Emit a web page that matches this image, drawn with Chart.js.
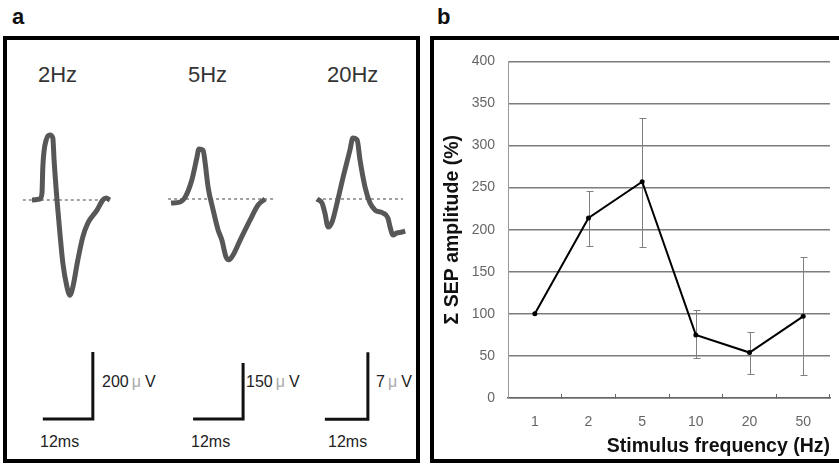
<html>
<head>
<title>SEP amplitude vs stimulus frequency</title>
<script src="https://cdn.jsdelivr.net/npm/chart.js@4.4.1/dist/chart.umd.min.js"></script>
<style>
  body { margin: 0; background: #fff; width: 839px; height: 464px; overflow: hidden; position: relative;
         font-family: "Liberation Sans", Arial, sans-serif; }
  .abs { position: absolute; }
  .box { position: absolute; border: 4px solid #000; box-sizing: border-box; }
  .panel { font-weight: bold; font-size: 22px; line-height: 22px; color: #111; }
  .hz { font-size: 22px; line-height: 22px; color: #333; }
  .ms { font-size: 16px; line-height: 16px; color: #222; }
  .uv { font-size: 16px; line-height: 16px; color: #222; white-space: nowrap; }
  .mu { color: #aaa; padding: 0 4px 0 3px; }
  canvas { position: absolute; }
</style>
</head>
<body>
<div class="panel abs" style="left:12px; top:6px;">a</div>
<div class="panel abs" style="left:437px; top:6px;">b</div>
<div class="box" style="left:3px; top:36px; width:417px; height:427px;"></div>
<div class="box" style="left:430px; top:36px; width:430px; height:427px;"></div>

<div id="labels"></div>
<canvas id="w0" width="120" height="325" style="left:15px; top:110px;"></canvas>
<canvas id="w1" width="125" height="325" style="left:160px; top:110px;"></canvas>
<canvas id="w2" width="110" height="325" style="left:305px; top:110px;"></canvas>
<canvas id="sep" width="405" height="419" style="left:434px; top:40px;"></canvas>

<script>
// ---- panel a: averaged SEP traces (time in ms, amplitude in uV) ----
var waveLabels = ['2Hz', '5Hz', '20Hz'];
var scaleBarMs = [12, 12, 12];
var scaleBarUv = [200, 150, 7];

var wave2Hz_t = [0, 1.9, 2.4, 2.6, 3.4, 4.3, 5.0, 5.3, 6.0, 6.7, 7.4, 8.4, 9.1, 9.8, 11.0, 12.2, 13.4, 15.6, 17.0, 17.8, 18.7];
var wave2Hz_v = [0, 3, 21, 99, 179, 194, 185, 119, 0, -99, -188, -260, -284, -260, -179, -110, -69, -30, 0, 6, 0];

var wave5Hz_t = [0, 2.2, 3.4, 5.0, 6.2, 6.7, 7.7, 8.2, 8.9, 10.1, 11.3, 12.2, 13.2, 13.9, 14.9, 16.6, 19.0, 20.9, 22.6];
var wave5Hz_v = [-11, -8, 5, 51, 110, 134, 131, 96, 32, -29, -83, -110, -155, -163, -150, -110, -56, -16, 0];

var wave20Hz_t = [0, 1.4, 2.2, 3.1, 4.2, 5.6, 7.3, 9.2, 10.0, 11.2, 12.0, 13.4, 14.8, 16.2, 18.4, 19.8, 20.4, 21.2, 22.3, 23.7, 24.6];
var wave20Hz_v = [0, -0.42, -1.46, -2.93, -2.40, -0.42, 2.30, 5.12, 6.37, 6.17, 4.08, 1.25, -0.42, -1.15, -1.46, -1.99, -2.93, -3.76, -3.55, -3.45, -3.34];

var baseline_t = [[-2.2, 18.7], [-0.7, 25.0], [0, 24.0]];

// ---- panel b: summed SEP amplitude ----
var freqLabels = ['1', '2', '5', '10', '20', '50'];
var sepMean = [100, 214, 257, 75, 54, 97];
var sepHigh = [null, 246, 333, 104, 79, 167];
var sepLow = [null, 181, 180, 48, 28, 27];
var yTicks = [0, 50, 100, 150, 200, 250, 300, 350, 400];

Chart.defaults.font.family = '"Liberation Sans", Arial, sans-serif';

// layout of the three trace columns (page px): canvas box, trace origin, px per unit
var waveLayout = [
  { L: 15,  T: 110, W: 120, H: 325, ox: 32,  oy: 200, msPx: 0.24,    uvPx: 200 / 67, barX: 2.6, barY: -654, hzX: 38,  uvX: 102, msX: 40 },
  { L: 160, T: 110, W: 125, H: 325, ox: 171, oy: 199, msPx: 0.24,    uvPx: 150 / 56, barX: 5.3, barY: -589, hzX: 188, uvX: 246, msX: 191 },
  { L: 305, T: 110, W: 110, H: 325, ox: 317, oy: 199, msPx: 12 / 43, uvPx: 7 / 67,   barX: 2.2, barY: -23.0, hzX: 327, uvX: 376, msX: 328 }
];
var waveT = [wave2Hz_t, wave5Hz_t, wave20Hz_t];
var waveV = [wave2Hz_v, wave5Hz_v, wave20Hz_v];

function pts(xs, ys) {
  return xs.map(function (x, i) { return { x: x, y: ys[i] }; });
}

var labelHtml = '';
waveLayout.forEach(function (c, i) {
  labelHtml += '<div class="hz abs" style="left:' + c.hzX + 'px; top:64px;">' + waveLabels[i] + '</div>';
  labelHtml += '<div class="uv abs" style="left:' + c.uvX + 'px; top:374px;">' + scaleBarUv[i] + '<span class="mu">\u03bc</span>V</div>';
  labelHtml += '<div class="ms abs" style="left:' + c.msX + 'px; top:434px;">' + scaleBarMs[i] + 'ms</div>';

  var bx = c.barX, by = c.barY;
  new Chart(document.getElementById('w' + i), {
    type: 'line',
    data: {
      datasets: [
        { data: pts(waveT[i], waveV[i]), borderColor: '#575757', borderWidth: 5, pointRadius: 0,
          cubicInterpolationMode: 'monotone', clip: false, order: 1 },
        { data: pts(baseline_t[i], [0, 0]), borderColor: '#444', borderWidth: 1, borderDash: [3, 3],
          pointRadius: 0, clip: false, order: 2 },
        { data: pts([bx, bx + scaleBarMs[i], bx + scaleBarMs[i]], [by, by, by + scaleBarUv[i]]),
          borderColor: '#111', borderWidth: 3, pointRadius: 0, borderJoinStyle: 'miter', tension: 0, clip: false }
      ]
    },
    options: {
      responsive: false, animation: false, events: [],
      layout: { padding: 0 },
      plugins: { legend: { display: false }, tooltip: { enabled: false } },
      scales: {
        x: { type: 'linear', display: false, min: (c.L - c.ox) * c.msPx, max: (c.L + c.W - c.ox) * c.msPx },
        y: { type: 'linear', display: false, min: (c.oy - c.T - c.H) * c.uvPx, max: (c.oy - c.T) * c.uvPx }
      }
    }
  });
});
document.getElementById('labels').innerHTML = labelHtml;

// error bars drawn under the line
var errorBars = {
  id: 'errorBars',
  beforeDatasetsDraw: function (chart) {
    var ctx = chart.ctx, x = chart.scales.x, y = chart.scales.y;
    ctx.save();
    ctx.strokeStyle = '#808080';
    ctx.lineWidth = 1;
    sepHigh.forEach(function (hi, i) {
      if (hi == null) return;
      var px = Math.round(x.getPixelForValue(i)) + 0.5;
      var yh = Math.round(y.getPixelForValue(hi)) + 0.5, yl = Math.round(y.getPixelForValue(sepLow[i])) + 0.5;
      ctx.beginPath();
      ctx.moveTo(px, yh); ctx.lineTo(px, yl);
      ctx.moveTo(px - 3, yh); ctx.lineTo(px + 4, yh);
      ctx.moveTo(px - 3, yl); ctx.lineTo(px + 4, yl);
      ctx.stroke();
    });
    ctx.restore();
  }
};

new Chart(document.getElementById('sep'), {
  type: 'line',
  data: {
    labels: freqLabels,
    datasets: [{
      data: sepMean, borderColor: '#000', borderWidth: 2, tension: 0,
      pointRadius: 2.5, pointBackgroundColor: '#000', pointBorderWidth: 0
    }]
  },
  plugins: [errorBars],
  options: {
    responsive: false, animation: false, events: [],
    layout: { padding: { left: 0, top: 17, right: 9, bottom: 0 } },
    plugins: { legend: { display: false }, tooltip: { enabled: false } },
    scales: {
      x: {
        type: 'category', offset: true,
        grid: { offset: true, drawOnChartArea: false, drawTicks: true, tickLength: -4, color: '#666', lineWidth: 1 },
        border: { color: '#666', width: 1.5 },
        ticks: { color: '#666', font: { size: 14 }, padding: 20 },
        title: { display: true, text: 'Stimulus frequency (Hz)', align: 'end', color: '#111',
                 font: { size: 19.5, weight: 'bold' }, padding: { top: 0, bottom: 1 } },
        afterFit: function (s) { s.height = 61; }
      },
      y: {
        min: 0, max: 400,
        afterBuildTicks: function (s) { s.ticks = yTicks.map(function (v) { return { value: v }; }); },
        grid: { drawTicks: false, color: '#7c7c7c', lineWidth: 1.5 },
        border: { color: '#999', width: 1 },
        ticks: { color: '#666', font: { size: 14 }, padding: 13 },
        title: { display: true, text: '\u03a3 SEP amplitude (%)', color: '#111',
                 font: { size: 19.5, weight: 'bold' }, padding: { top: 7, bottom: 0 } },
        afterFit: function (s) { s.width = 74; }
      }
    }
  }
});
</script>
</body>
</html>
